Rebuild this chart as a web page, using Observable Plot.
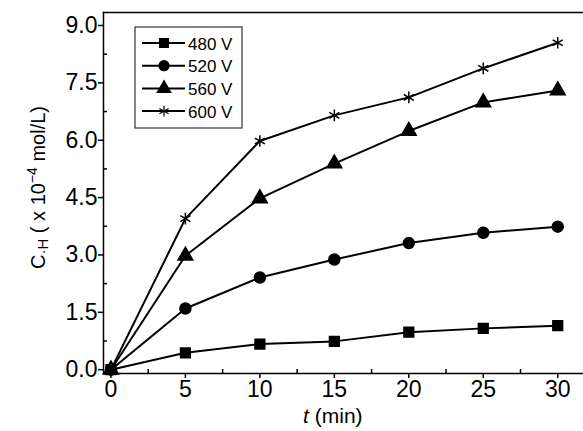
<!DOCTYPE html>
<html><head><meta charset="utf-8">
<script src="https://cdn.jsdelivr.net/npm/d3@7"></script>
<script src="https://cdn.jsdelivr.net/npm/@observablehq/plot@0.6"></script>
<style>
html,body{margin:0;padding:0;background:#fff;}
#chart{position:relative;width:583px;height:431px;overflow:hidden;}
svg{font-family:"Liberation Sans",Arial,sans-serif;}
</style></head><body><div id="chart"></div>
<script>
const times = [0, 5, 10, 15, 20, 25, 30];
const series = ["480 V", "520 V", "560 V", "600 V"];
const c480 = [0, 0.44, 0.67, 0.74, 0.98, 1.08, 1.15];
const c520 = [0, 1.60, 2.41, 2.88, 3.31, 3.58, 3.74];
const c560 = [0, 2.98, 4.48, 5.39, 6.24, 6.99, 7.30];
const c600 = [0, 3.95, 5.98, 6.65, 7.12, 7.88, 8.55];
const symbols = ["square", "circle", "triangle", "asterisk"];
const xTicks = [0, 5, 10, 15, 20, 25, 30];
const xMinor = [2.5, 7.5, 12.5, 17.5, 22.5, 27.5];
const yTicks = [0, 1.5, 3.0, 4.5, 6.0, 7.5, 9.0];
const yMinor = [0.75, 2.25, 3.75, 5.25, 6.75, 8.25];

const data = [];
[c480, c520, c560, c600].forEach((vals, i) =>
  vals.forEach((v, j) => data.push({t: times[j], c: v, s: series[i]})));

const W = 583, H = 431, mL = 103, mT = 12, mB = 58, mR = 0;

const chart = Plot.plot({
  width: W, height: H,
  marginLeft: mL, marginTop: mT, marginBottom: mB, marginRight: mR,
  style: {fontFamily: '"Liberation Sans",Arial,sans-serif', fontSize: "23px", color: "#000", background: "transparent", overflow: "visible"},
  x: {domain: [-0.5, 31.73]},
  y: {domain: [-0.1, 9.34]},
  symbol: {domain: series, range: symbols},
  marks: [
    Plot.axisX({ticks: xTicks, tickSize: 5, tickPadding: 2, tickFormat: d => String(d), label: null, fontSize: 23, strokeWidth: 1.5}),
    Plot.axisX({ticks: xMinor, tickSize: -4, tickFormat: () => "", label: null, strokeWidth: 1.5}),
    Plot.axisY({ticks: yTicks, tickSize: 5, tickPadding: 1, tickFormat: d => d.toFixed(1), label: null, fontSize: 23, strokeWidth: 1.5}),
    Plot.axisY({ticks: yMinor, tickSize: -4, tickFormat: () => "", label: null, strokeWidth: 1.5}),
    Plot.line(data, {x: "t", y: "c", z: "s", stroke: "#000", strokeWidth: 2}),
    Plot.dot(data, {x: "t", y: "c", symbol: "s", fill: "#000", stroke: "#000", strokeWidth: 1.5, r: 5.5}),
    Plot.frame({anchor: "top", strokeWidth: 1.5}),
    Plot.frame({anchor: "left", strokeWidth: 1.5}),
    Plot.frame({anchor: "bottom", strokeWidth: 1.5})
  ]
});
document.getElementById("chart").appendChild(chart);

const svg = d3.select(chart);
const xs = chart.scale("x"), ys = chart.scale("y");

// Y axis label
const yl = svg.append("text")
  .attr("transform", `translate(45,${(mT + H - mB) / 2 - 5}) rotate(-90)`)
  .attr("text-anchor", "middle")
  .attr("font-size", 20).attr("fill", "#000");
yl.append("tspan").text("C");
yl.append("tspan").attr("font-size", 15).attr("dy", 3).text("·H");
yl.append("tspan").attr("dy", -3).text(" ( x 10");
yl.append("tspan").attr("font-size", 14).attr("dy", -8).text("−4");
yl.append("tspan").attr("dy", 8).text(" mol/L)");

// X axis label
const xl = svg.append("text")
  .attr("x", (xs.apply(0) + xs.apply(30)) / 2 - 1)
  .attr("y", H - 8)
  .attr("text-anchor", "middle")
  .attr("font-size", 21).attr("fill", "#000");
xl.append("tspan").attr("font-style", "italic").text("t");
xl.append("tspan").text(" (min)");

// Legend
const lg = svg.append("g");
const bx = 135, by = 27, bw = 107, bh = 101;
lg.append("rect").attr("x", bx).attr("y", by).attr("width", bw).attr("height", bh)
  .attr("fill", "#fff").attr("stroke", "#333").attr("stroke-width", 1.2);
const sym = {square: d3.symbolSquare, circle: d3.symbolCircle, triangle: d3.symbolTriangle, asterisk: d3.symbolAsterisk};
series.forEach((s, i) => {
  const yy = by + 16 + i * 22.7;
  lg.append("line").attr("x1", bx + 7).attr("x2", bx + 50).attr("y1", yy).attr("y2", yy)
    .attr("stroke", "#000").attr("stroke-width", 2);
  lg.append("path").attr("transform", `translate(${bx + 29},${yy})`)
    .attr("d", d3.symbol(sym[symbols[i]], Math.PI * 5 * 5)())
    .attr("fill", "#000").attr("stroke", "#000").attr("stroke-width", 1.2);
  lg.append("text").attr("x", bx + 53).attr("y", yy + 6.5)
    .attr("text-anchor", "start")
    .attr("font-size", 17).attr("fill", "#000").text(s);
});
</script></body></html>
